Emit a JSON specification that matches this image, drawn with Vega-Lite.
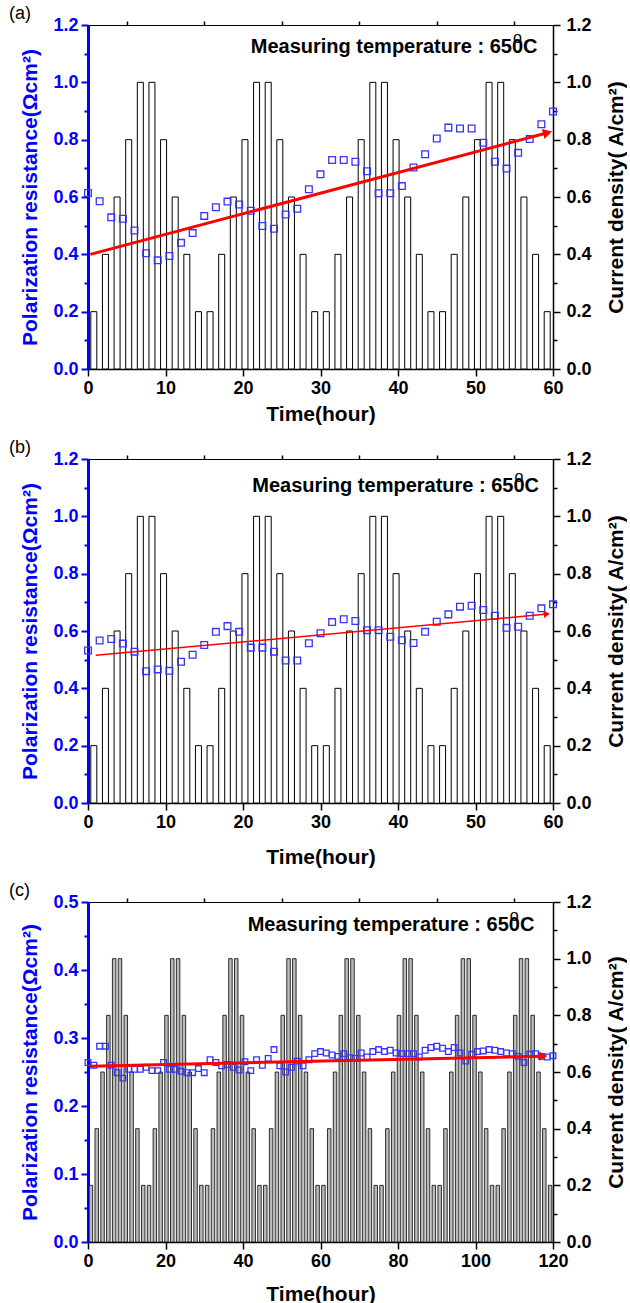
{
  "$schema": "https://vega.github.io/schema/vega-lite/v6.json",
  "padding": {"left": 8, "top": 4, "right": 0, "bottom": 0},
  "background": "white",
  "spacing": 13,
  "config": {
    "font": "Liberation Sans",
    "view": {"stroke": "black", "strokeWidth": 1},
    "scale": {"continuousPadding": 0},
    "axis": {
      "labelFont": "Liberation Sans", "labelFontWeight": "bold", "labelFontSize": 18, "labelColor": "black",
      "titleFont": "Liberation Sans", "titleFontWeight": "bold", "titleFontSize": 21, "titleColor": "black",
      "grid": false, "domainColor": "black", "tickColor": "black", "domainWidth": 1.5, "tickWidth": 1.5,
      "labelFlush": false, "labelOverlap": false, "labelBound": false
    },
    "title": {"font": "Liberation Sans", "fontSize": 18, "fontWeight": "normal", "anchor": "start", "frame": "bounds", "offset": -7, "dx": -11, "color": "black"}
  },
  "datasets": {
    "barsAB": [
      {"t": 0.75, "cd": 0.2}, {"t": 2.25, "cd": 0.4}, {"t": 3.75, "cd": 0.6}, {"t": 5.25, "cd": 0.8}, {"t": 6.75, "cd": 1.0},
      {"t": 8.25, "cd": 1.0}, {"t": 9.75, "cd": 0.8}, {"t": 11.25, "cd": 0.6}, {"t": 12.75, "cd": 0.4}, {"t": 14.25, "cd": 0.2},
      {"t": 15.75, "cd": 0.2}, {"t": 17.25, "cd": 0.4}, {"t": 18.75, "cd": 0.6}, {"t": 20.25, "cd": 0.8}, {"t": 21.75, "cd": 1.0},
      {"t": 23.25, "cd": 1.0}, {"t": 24.75, "cd": 0.8}, {"t": 26.25, "cd": 0.6}, {"t": 27.75, "cd": 0.4}, {"t": 29.25, "cd": 0.2},
      {"t": 30.75, "cd": 0.2}, {"t": 32.25, "cd": 0.4}, {"t": 33.75, "cd": 0.6}, {"t": 35.25, "cd": 0.8}, {"t": 36.75, "cd": 1.0},
      {"t": 38.25, "cd": 1.0}, {"t": 39.75, "cd": 0.8}, {"t": 41.25, "cd": 0.6}, {"t": 42.75, "cd": 0.4}, {"t": 44.25, "cd": 0.2},
      {"t": 45.75, "cd": 0.2}, {"t": 47.25, "cd": 0.4}, {"t": 48.75, "cd": 0.6}, {"t": 50.25, "cd": 0.8}, {"t": 51.75, "cd": 1.0},
      {"t": 53.25, "cd": 1.0}, {"t": 54.75, "cd": 0.8}, {"t": 56.25, "cd": 0.6}, {"t": 57.75, "cd": 0.4}, {"t": 59.25, "cd": 0.2}
    ],
    "barsC": [
      {"t": 0.75, "cd": 0.2}, {"t": 2.25, "cd": 0.4}, {"t": 3.75, "cd": 0.6}, {"t": 5.25, "cd": 0.8}, {"t": 6.75, "cd": 1.0},
      {"t": 8.25, "cd": 1.0}, {"t": 9.75, "cd": 0.8}, {"t": 11.25, "cd": 0.6}, {"t": 12.75, "cd": 0.4}, {"t": 14.25, "cd": 0.2},
      {"t": 15.75, "cd": 0.2}, {"t": 17.25, "cd": 0.4}, {"t": 18.75, "cd": 0.6}, {"t": 20.25, "cd": 0.8}, {"t": 21.75, "cd": 1.0},
      {"t": 23.25, "cd": 1.0}, {"t": 24.75, "cd": 0.8}, {"t": 26.25, "cd": 0.6}, {"t": 27.75, "cd": 0.4}, {"t": 29.25, "cd": 0.2},
      {"t": 30.75, "cd": 0.2}, {"t": 32.25, "cd": 0.4}, {"t": 33.75, "cd": 0.6}, {"t": 35.25, "cd": 0.8}, {"t": 36.75, "cd": 1.0},
      {"t": 38.25, "cd": 1.0}, {"t": 39.75, "cd": 0.8}, {"t": 41.25, "cd": 0.6}, {"t": 42.75, "cd": 0.4}, {"t": 44.25, "cd": 0.2},
      {"t": 45.75, "cd": 0.2}, {"t": 47.25, "cd": 0.4}, {"t": 48.75, "cd": 0.6}, {"t": 50.25, "cd": 0.8}, {"t": 51.75, "cd": 1.0},
      {"t": 53.25, "cd": 1.0}, {"t": 54.75, "cd": 0.8}, {"t": 56.25, "cd": 0.6}, {"t": 57.75, "cd": 0.4}, {"t": 59.25, "cd": 0.2},
      {"t": 60.75, "cd": 0.2}, {"t": 62.25, "cd": 0.4}, {"t": 63.75, "cd": 0.6}, {"t": 65.25, "cd": 0.8}, {"t": 66.75, "cd": 1.0},
      {"t": 68.25, "cd": 1.0}, {"t": 69.75, "cd": 0.8}, {"t": 71.25, "cd": 0.6}, {"t": 72.75, "cd": 0.4}, {"t": 74.25, "cd": 0.2},
      {"t": 75.75, "cd": 0.2}, {"t": 77.25, "cd": 0.4}, {"t": 78.75, "cd": 0.6}, {"t": 80.25, "cd": 0.8}, {"t": 81.75, "cd": 1.0},
      {"t": 83.25, "cd": 1.0}, {"t": 84.75, "cd": 0.8}, {"t": 86.25, "cd": 0.6}, {"t": 87.75, "cd": 0.4}, {"t": 89.25, "cd": 0.2},
      {"t": 90.75, "cd": 0.2}, {"t": 92.25, "cd": 0.4}, {"t": 93.75, "cd": 0.6}, {"t": 95.25, "cd": 0.8}, {"t": 96.75, "cd": 1.0},
      {"t": 98.25, "cd": 1.0}, {"t": 99.75, "cd": 0.8}, {"t": 101.25, "cd": 0.6}, {"t": 102.75, "cd": 0.4}, {"t": 104.25, "cd": 0.2},
      {"t": 105.75, "cd": 0.2}, {"t": 107.25, "cd": 0.4}, {"t": 108.75, "cd": 0.6}, {"t": 110.25, "cd": 0.8}, {"t": 111.75, "cd": 1.0},
      {"t": 113.25, "cd": 1.0}, {"t": 114.75, "cd": 0.8}, {"t": 116.25, "cd": 0.6}, {"t": 117.75, "cd": 0.4}, {"t": 119.25, "cd": 0.2}
    ],
    "ptsA": [
      {"t": 0, "pr": 0.614}, {"t": 1.5, "pr": 0.585}, {"t": 3, "pr": 0.529}, {"t": 4.5, "pr": 0.524}, {"t": 6, "pr": 0.483},
      {"t": 7.5, "pr": 0.404}, {"t": 9, "pr": 0.379}, {"t": 10.5, "pr": 0.394}, {"t": 12, "pr": 0.44}, {"t": 13.5, "pr": 0.474},
      {"t": 15, "pr": 0.534}, {"t": 16.5, "pr": 0.564}, {"t": 18, "pr": 0.584}, {"t": 19.5, "pr": 0.574}, {"t": 21, "pr": 0.552},
      {"t": 22.5, "pr": 0.499}, {"t": 24, "pr": 0.489}, {"t": 25.5, "pr": 0.539}, {"t": 27, "pr": 0.559}, {"t": 28.5, "pr": 0.627},
      {"t": 30, "pr": 0.679}, {"t": 31.5, "pr": 0.729}, {"t": 33, "pr": 0.729}, {"t": 34.5, "pr": 0.723}, {"t": 36, "pr": 0.69},
      {"t": 37.5, "pr": 0.613}, {"t": 39, "pr": 0.613}, {"t": 40.5, "pr": 0.638}, {"t": 42, "pr": 0.703}, {"t": 43.5, "pr": 0.749},
      {"t": 45, "pr": 0.804}, {"t": 46.5, "pr": 0.842}, {"t": 48, "pr": 0.839}, {"t": 49.5, "pr": 0.839}, {"t": 51, "pr": 0.789},
      {"t": 52.5, "pr": 0.723}, {"t": 54, "pr": 0.699}, {"t": 55.5, "pr": 0.754}, {"t": 57, "pr": 0.802}, {"t": 58.5, "pr": 0.854},
      {"t": 60, "pr": 0.898}
    ],
    "ptsB": [
      {"t": 0, "pr": 0.532}, {"t": 1.5, "pr": 0.567}, {"t": 3, "pr": 0.572}, {"t": 4.5, "pr": 0.556}, {"t": 6, "pr": 0.528},
      {"t": 7.5, "pr": 0.46}, {"t": 9, "pr": 0.466}, {"t": 10.5, "pr": 0.461}, {"t": 12, "pr": 0.493}, {"t": 13.5, "pr": 0.517},
      {"t": 15, "pr": 0.551}, {"t": 16.5, "pr": 0.597}, {"t": 18, "pr": 0.617}, {"t": 19.5, "pr": 0.597}, {"t": 21, "pr": 0.542},
      {"t": 22.5, "pr": 0.542}, {"t": 24, "pr": 0.528}, {"t": 25.5, "pr": 0.497}, {"t": 27, "pr": 0.497}, {"t": 28.5, "pr": 0.557},
      {"t": 30, "pr": 0.592}, {"t": 31.5, "pr": 0.631}, {"t": 33, "pr": 0.641}, {"t": 34.5, "pr": 0.635}, {"t": 36, "pr": 0.603},
      {"t": 37.5, "pr": 0.603}, {"t": 39, "pr": 0.58}, {"t": 40.5, "pr": 0.568}, {"t": 42, "pr": 0.558}, {"t": 43.5, "pr": 0.597},
      {"t": 45, "pr": 0.632}, {"t": 46.5, "pr": 0.658}, {"t": 48, "pr": 0.685}, {"t": 49.5, "pr": 0.688}, {"t": 51, "pr": 0.673},
      {"t": 52.5, "pr": 0.653}, {"t": 54, "pr": 0.611}, {"t": 55.5, "pr": 0.615}, {"t": 57, "pr": 0.653}, {"t": 58.5, "pr": 0.679},
      {"t": 60, "pr": 0.693}
    ],
    "ptsC": [
      {"t": 0, "pr": 0.264}, {"t": 1.5, "pr": 0.26}, {"t": 3, "pr": 0.288}, {"t": 4.5, "pr": 0.288}, {"t": 6, "pr": 0.26},
      {"t": 7.5, "pr": 0.249}, {"t": 9, "pr": 0.241}, {"t": 10.5, "pr": 0.254}, {"t": 12, "pr": 0.254}, {"t": 13.5, "pr": 0.254},
      {"t": 15, "pr": 0.257}, {"t": 16.5, "pr": 0.252}, {"t": 18, "pr": 0.252}, {"t": 19.5, "pr": 0.264}, {"t": 21, "pr": 0.254},
      {"t": 22.5, "pr": 0.254}, {"t": 24, "pr": 0.251}, {"t": 25.5, "pr": 0.249}, {"t": 27, "pr": 0.249}, {"t": 28.5, "pr": 0.255},
      {"t": 30, "pr": 0.249}, {"t": 31.5, "pr": 0.268}, {"t": 33, "pr": 0.264}, {"t": 34.5, "pr": 0.259}, {"t": 36, "pr": 0.261},
      {"t": 37.5, "pr": 0.257}, {"t": 39, "pr": 0.253}, {"t": 40.5, "pr": 0.265}, {"t": 42, "pr": 0.252}, {"t": 43.5, "pr": 0.268},
      {"t": 45, "pr": 0.26}, {"t": 46.5, "pr": 0.27}, {"t": 48, "pr": 0.283}, {"t": 49.5, "pr": 0.259}, {"t": 51, "pr": 0.25},
      {"t": 52.5, "pr": 0.257}, {"t": 54, "pr": 0.266}, {"t": 55.5, "pr": 0.259}, {"t": 57, "pr": 0.268}, {"t": 58.5, "pr": 0.277},
      {"t": 60, "pr": 0.28}, {"t": 61.5, "pr": 0.278}, {"t": 63, "pr": 0.275}, {"t": 64.5, "pr": 0.273}, {"t": 66, "pr": 0.277},
      {"t": 67.5, "pr": 0.271}, {"t": 69, "pr": 0.27}, {"t": 70.5, "pr": 0.278}, {"t": 72, "pr": 0.272}, {"t": 73.5, "pr": 0.28},
      {"t": 75, "pr": 0.283}, {"t": 76.5, "pr": 0.28}, {"t": 78, "pr": 0.282}, {"t": 79.5, "pr": 0.278}, {"t": 81, "pr": 0.277},
      {"t": 82.5, "pr": 0.277}, {"t": 84, "pr": 0.277}, {"t": 85.5, "pr": 0.272}, {"t": 87, "pr": 0.282}, {"t": 88.5, "pr": 0.286},
      {"t": 90, "pr": 0.288}, {"t": 91.5, "pr": 0.285}, {"t": 93, "pr": 0.28}, {"t": 94.5, "pr": 0.286}, {"t": 96, "pr": 0.278},
      {"t": 97.5, "pr": 0.266}, {"t": 99, "pr": 0.276}, {"t": 100.5, "pr": 0.28}, {"t": 102, "pr": 0.281}, {"t": 103.5, "pr": 0.283},
      {"t": 105, "pr": 0.282}, {"t": 106.5, "pr": 0.28}, {"t": 108, "pr": 0.278}, {"t": 109.5, "pr": 0.277}, {"t": 111, "pr": 0.273},
      {"t": 112.5, "pr": 0.264}, {"t": 114, "pr": 0.276}, {"t": 115.5, "pr": 0.277}, {"t": 117, "pr": 0.273}, {"t": 118.5, "pr": 0.272},
      {"t": 120, "pr": 0.274}
    ],
    "trendA": [{"t": 0.3, "pr": 0.4}, {"t": 59.3, "pr": 0.824}],
    "trendB": [{"t": 1.0, "pr": 0.515}, {"t": 59.2, "pr": 0.659}],
    "trendC": [{"t": 0.5, "pr": 0.2585}, {"t": 117.5, "pr": 0.2733}]
  },
  "vconcat": [
    {
      "title": {"text": "(a)"},
      "width": 465, "height": 344,
      "resolve": {"scale": {"y": "independent"}, "axis": {"x": "independent", "y": "independent"}},
      "layer": [
        {
          "data": {"name": "barsAB"},
          "mark": {"type": "bar", "width": 6, "fill": "white", "stroke": "black", "strokeWidth": 1},
          "encoding": {
            "x": {"field": "t", "type": "quantitative", "scale": {"domain": [0, 60], "nice": false, "zero": false},
                  "axis": {"values": [0, 10, 20, 30, 40, 50, 60], "title": "Time(hour)", "tickSize": 7, "labelPadding": 3, "titlePadding": 6}},
            "y": {"field": "cd", "type": "quantitative", "scale": {"domain": [0, 1.2], "nice": false},
                  "axis": {"orient": "right", "values": [0, 0.2, 0.4, 0.6, 0.8, 1.0, 1.2], "format": ".1f", "title": "Current density( A/cm²)", "titleAngle": -90, "titleBaseline": "top", "tickSize": 7, "labelPadding": 6, "titlePadding": 14}}
          }
        },
        {
          "data": {"name": "barsAB"},
          "mark": {"type": "bar", "width": 6, "opacity": 0},
          "encoding": {
            "x": {"field": "t", "type": "quantitative", "scale": {"domain": [0, 60], "nice": false, "zero": false},
                  "axis": {"values": [5, 15, 25, 35, 45, 55], "labels": false, "domain": false, "title": null, "tickSize": 4}},
            "y": {"field": "cd", "type": "quantitative", "scale": {"domain": [0, 1.2], "nice": false},
                  "axis": {"orient": "right", "values": [0.1, 0.3, 0.5, 0.7, 0.9, 1.1], "labels": false, "domain": false, "title": null, "tickSize": 4}}
          }
        },
        {
          "data": {"name": "ptsA"},
          "mark": {"type": "point", "shape": "square", "filled": false, "color": "#3535ff", "size": 45, "strokeWidth": 1.3, "opacity": 1},
          "encoding": {
            "x": {"field": "t", "type": "quantitative", "scale": {"domain": [0, 60], "nice": false, "zero": false}, "axis": null},
            "y": {"field": "pr", "type": "quantitative", "scale": {"domain": [0, 1.2], "nice": false},
                  "axis": {"orient": "left", "values": [0, 0.2, 0.4, 0.6, 0.8, 1.0, 1.2], "format": ".1f", "title": "Polarization resistance(Ωcm²)",
                           "domainColor": "#0000ff", "domainWidth": 3, "tickColor": "#0000ff", "tickWidth": 2, "labelColor": "#0000ff", "titleColor": "#0000ff",
                           "tickSize": 7, "labelPadding": 3, "titlePadding": 12}}
          }
        },
        {
          "data": {"name": "trendA"},
          "mark": {"type": "line", "color": "#ff0000", "strokeWidth": 3},
          "encoding": {
            "x": {"field": "t", "type": "quantitative", "scale": {"domain": [0, 60], "nice": false, "zero": false}, "axis": null},
            "y": {"field": "pr", "type": "quantitative", "scale": {"domain": [0, 1.2], "nice": false},
                  "axis": {"orient": "left", "values": [0.1, 0.3, 0.5, 0.7, 0.9, 1.1], "labels": false, "domain": false, "title": null, "tickSize": 4, "tickColor": "#0000ff", "tickWidth": 2}}
          }
        },
        {
          "data": {"name": "trendA"},
          "transform": [{"filter": "datum.t > 30"}],
          "mark": {"type": "point", "shape": "triangle-right", "filled": true, "color": "#ff0000", "size": 110, "angle": 345, "opacity": 1},
          "encoding": {
            "x": {"field": "t", "type": "quantitative", "scale": {"domain": [0, 60], "nice": false, "zero": false}, "axis": null},
            "y": {"field": "pr", "type": "quantitative", "scale": {"domain": [0, 1.2], "nice": false}, "axis": null}
          }
        },
        {
          "data": {"values": [{}]},
          "mark": {"type": "text", "text": "Measuring temperature : 650C", "align": "right", "baseline": "alphabetic", "font": "Liberation Sans", "fontSize": 20, "fontWeight": "bold", "color": "black"},
          "encoding": {
            "x": {"datum": 58, "type": "quantitative", "scale": {"domain": [0, 60], "nice": false, "zero": false}, "axis": null},
            "y": {"datum": 1.102, "type": "quantitative", "scale": {"domain": [0, 1.2], "nice": false}, "axis": null}
          }
        },
        {
          "data": {"values": [{}]},
          "mark": {"type": "text", "text": "o", "align": "center", "baseline": "middle", "font": "Liberation Sans", "fontSize": 16, "fontWeight": "normal", "color": "black"},
          "encoding": {
            "x": {"datum": 55.4, "type": "quantitative", "scale": {"domain": [0, 60], "nice": false, "zero": false}, "axis": null},
            "y": {"datum": 1.155, "type": "quantitative", "scale": {"domain": [0, 1.2], "nice": false}, "axis": null}
          }
        }
      ]
    },
    {
      "title": {"text": "(b)"},
      "width": 465, "height": 344,
      "resolve": {"scale": {"y": "independent"}, "axis": {"x": "independent", "y": "independent"}},
      "layer": [
        {
          "data": {"name": "barsAB"},
          "mark": {"type": "bar", "width": 6, "fill": "white", "stroke": "black", "strokeWidth": 1},
          "encoding": {
            "x": {"field": "t", "type": "quantitative", "scale": {"domain": [0, 60], "nice": false, "zero": false},
                  "axis": {"values": [0, 10, 20, 30, 40, 50, 60], "title": "Time(hour)", "tickSize": 7, "labelPadding": 3, "titlePadding": 15}},
            "y": {"field": "cd", "type": "quantitative", "scale": {"domain": [0, 1.2], "nice": false},
                  "axis": {"orient": "right", "values": [0, 0.2, 0.4, 0.6, 0.8, 1.0, 1.2], "format": ".1f", "title": "Current density( A/cm²)", "titleAngle": -90, "titleBaseline": "top", "tickSize": 7, "labelPadding": 6, "titlePadding": 14}}
          }
        },
        {
          "data": {"name": "barsAB"},
          "mark": {"type": "bar", "width": 6, "opacity": 0},
          "encoding": {
            "x": {"field": "t", "type": "quantitative", "scale": {"domain": [0, 60], "nice": false, "zero": false},
                  "axis": {"values": [5, 15, 25, 35, 45, 55], "labels": false, "domain": false, "title": null, "tickSize": 4}},
            "y": {"field": "cd", "type": "quantitative", "scale": {"domain": [0, 1.2], "nice": false},
                  "axis": {"orient": "right", "values": [0.1, 0.3, 0.5, 0.7, 0.9, 1.1], "labels": false, "domain": false, "title": null, "tickSize": 4}}
          }
        },
        {
          "data": {"name": "ptsB"},
          "mark": {"type": "point", "shape": "square", "filled": false, "color": "#3535ff", "size": 45, "strokeWidth": 1.3, "opacity": 1},
          "encoding": {
            "x": {"field": "t", "type": "quantitative", "scale": {"domain": [0, 60], "nice": false, "zero": false}, "axis": null},
            "y": {"field": "pr", "type": "quantitative", "scale": {"domain": [0, 1.2], "nice": false},
                  "axis": {"orient": "left", "values": [0, 0.2, 0.4, 0.6, 0.8, 1.0, 1.2], "format": ".1f", "title": "Polarization resistance(Ωcm²)",
                           "domainColor": "#0000ff", "domainWidth": 3, "tickColor": "#0000ff", "tickWidth": 2, "labelColor": "#0000ff", "titleColor": "#0000ff",
                           "tickSize": 7, "labelPadding": 3, "titlePadding": 12}}
          }
        },
        {
          "data": {"name": "trendB"},
          "mark": {"type": "line", "color": "#ff0000", "strokeWidth": 1.5},
          "encoding": {
            "x": {"field": "t", "type": "quantitative", "scale": {"domain": [0, 60], "nice": false, "zero": false}, "axis": null},
            "y": {"field": "pr", "type": "quantitative", "scale": {"domain": [0, 1.2], "nice": false},
                  "axis": {"orient": "left", "values": [0.1, 0.3, 0.5, 0.7, 0.9, 1.1], "labels": false, "domain": false, "title": null, "tickSize": 4, "tickColor": "#0000ff", "tickWidth": 2}}
          }
        },
        {
          "data": {"name": "trendB"},
          "transform": [{"filter": "datum.t > 30"}],
          "mark": {"type": "point", "shape": "triangle-right", "filled": true, "color": "#ff0000", "size": 50, "angle": 355, "opacity": 1},
          "encoding": {
            "x": {"field": "t", "type": "quantitative", "scale": {"domain": [0, 60], "nice": false, "zero": false}, "axis": null},
            "y": {"field": "pr", "type": "quantitative", "scale": {"domain": [0, 1.2], "nice": false}, "axis": null}
          }
        },
        {
          "data": {"values": [{}]},
          "mark": {"type": "text", "text": "Measuring temperature : 650C", "align": "right", "baseline": "alphabetic", "font": "Liberation Sans", "fontSize": 20, "fontWeight": "bold", "color": "black"},
          "encoding": {
            "x": {"datum": 58.2, "type": "quantitative", "scale": {"domain": [0, 60], "nice": false, "zero": false}, "axis": null},
            "y": {"datum": 1.085, "type": "quantitative", "scale": {"domain": [0, 1.2], "nice": false}, "axis": null}
          }
        },
        {
          "data": {"values": [{}]},
          "mark": {"type": "text", "text": "o", "align": "center", "baseline": "middle", "font": "Liberation Sans", "fontSize": 16, "fontWeight": "normal", "color": "black"},
          "encoding": {
            "x": {"datum": 55.6, "type": "quantitative", "scale": {"domain": [0, 60], "nice": false, "zero": false}, "axis": null},
            "y": {"datum": 1.136, "type": "quantitative", "scale": {"domain": [0, 1.2], "nice": false}, "axis": null}
          }
        }
      ]
    },
    {
      "title": {"text": "(c)"},
      "width": 465, "height": 340,
      "resolve": {"scale": {"y": "independent"}, "axis": {"x": "independent", "y": "independent"}},
      "layer": [
        {
          "data": {"name": "barsC"},
          "mark": {"type": "bar", "width": 3.5, "fill": "#bbbbbb", "stroke": "black", "strokeWidth": 0.8},
          "encoding": {
            "x": {"field": "t", "type": "quantitative", "scale": {"domain": [0, 120], "nice": false, "zero": false},
                  "axis": {"values": [0, 20, 40, 60, 80, 100, 120], "title": "Time(hour)", "tickSize": 7, "labelPadding": 3, "titlePadding": 13}},
            "y": {"field": "cd", "type": "quantitative", "scale": {"domain": [0, 1.2], "nice": false},
                  "axis": {"orient": "right", "values": [0, 0.2, 0.4, 0.6, 0.8, 1.0, 1.2], "format": ".1f", "title": "Current density( A/cm²)", "titleAngle": -90, "titleBaseline": "top", "tickSize": 7, "labelPadding": 6, "titlePadding": 14}}
          }
        },
        {
          "data": {"name": "barsC"},
          "mark": {"type": "bar", "width": 3.5, "opacity": 0},
          "encoding": {
            "x": {"field": "t", "type": "quantitative", "scale": {"domain": [0, 120], "nice": false, "zero": false},
                  "axis": {"values": [10, 30, 50, 70, 90, 110], "labels": false, "domain": false, "title": null, "tickSize": 4}},
            "y": {"field": "cd", "type": "quantitative", "scale": {"domain": [0, 1.2], "nice": false},
                  "axis": {"orient": "right", "values": [0.1, 0.3, 0.5, 0.7, 0.9, 1.1], "labels": false, "domain": false, "title": null, "tickSize": 4}}
          }
        },
        {
          "data": {"name": "ptsC"},
          "mark": {"type": "point", "shape": "square", "filled": false, "color": "#3535ff", "size": 32, "strokeWidth": 1.3, "opacity": 1},
          "encoding": {
            "x": {"field": "t", "type": "quantitative", "scale": {"domain": [0, 120], "nice": false, "zero": false}, "axis": null},
            "y": {"field": "pr", "type": "quantitative", "scale": {"domain": [0, 0.5], "nice": false},
                  "axis": {"orient": "left", "values": [0, 0.1, 0.2, 0.3, 0.4, 0.5], "format": ".1f", "title": "Polarization resistance(Ωcm²)",
                           "domainColor": "#0000ff", "domainWidth": 3, "tickColor": "#0000ff", "tickWidth": 2, "labelColor": "#0000ff", "titleColor": "#0000ff",
                           "tickSize": 7, "labelPadding": 3, "titlePadding": 12}}
          }
        },
        {
          "data": {"name": "trendC"},
          "mark": {"type": "line", "color": "#ff0000", "strokeWidth": 3},
          "encoding": {
            "x": {"field": "t", "type": "quantitative", "scale": {"domain": [0, 120], "nice": false, "zero": false}, "axis": null},
            "y": {"field": "pr", "type": "quantitative", "scale": {"domain": [0, 0.5], "nice": false},
                  "axis": {"orient": "left", "values": [0.05, 0.15, 0.25, 0.35, 0.45], "labels": false, "domain": false, "title": null, "tickSize": 4, "tickColor": "#0000ff", "tickWidth": 2}}
          }
        },
        {
          "data": {"name": "trendC"},
          "transform": [{"filter": "datum.t > 60"}],
          "mark": {"type": "point", "shape": "triangle-right", "filled": true, "color": "#ff0000", "size": 90, "angle": 359, "opacity": 1},
          "encoding": {
            "x": {"field": "t", "type": "quantitative", "scale": {"domain": [0, 120], "nice": false, "zero": false}, "axis": null},
            "y": {"field": "pr", "type": "quantitative", "scale": {"domain": [0, 0.5], "nice": false}, "axis": null}
          }
        },
        {
          "data": {"values": [{}]},
          "mark": {"type": "text", "text": "Measuring temperature : 650C", "align": "right", "baseline": "alphabetic", "font": "Liberation Sans", "fontSize": 20, "fontWeight": "bold", "color": "black"},
          "encoding": {
            "x": {"datum": 115.2, "type": "quantitative", "scale": {"domain": [0, 120], "nice": false, "zero": false}, "axis": null},
            "y": {"datum": 0.457, "type": "quantitative", "scale": {"domain": [0, 0.5], "nice": false}, "axis": null}
          }
        },
        {
          "data": {"values": [{}]},
          "mark": {"type": "text", "text": "o", "align": "center", "baseline": "middle", "font": "Liberation Sans", "fontSize": 16, "fontWeight": "normal", "color": "black"},
          "encoding": {
            "x": {"datum": 110.0, "type": "quantitative", "scale": {"domain": [0, 120], "nice": false, "zero": false}, "axis": null},
            "y": {"datum": 0.479, "type": "quantitative", "scale": {"domain": [0, 0.5], "nice": false}, "axis": null}
          }
        }
      ]
    }
  ]
}
